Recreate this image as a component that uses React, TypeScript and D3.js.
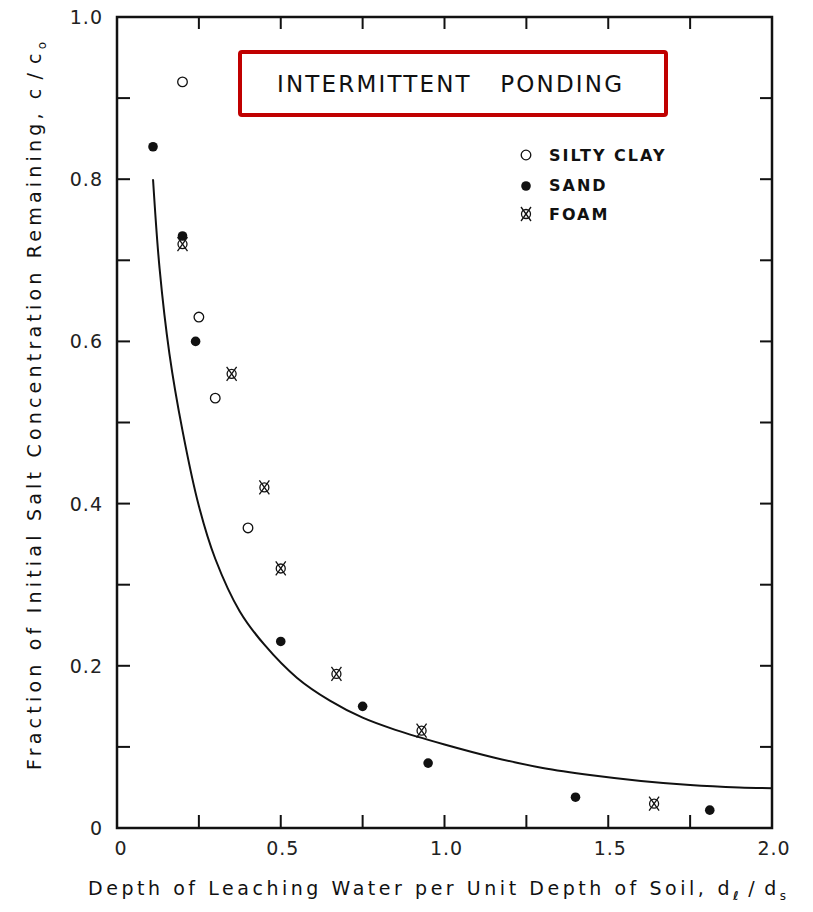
import React from 'react';
import * as d3 from 'd3';

// silty clay (open circles)
const clayX = [0.2, 0.25, 0.3, 0.4];
const clayY = [0.92, 0.63, 0.53, 0.37];

// sand (filled dots)
const sandX = [0.11, 0.2, 0.24, 0.5, 0.75, 0.95, 1.4, 1.81];
const sandY = [0.84, 0.73, 0.6, 0.23, 0.15, 0.08, 0.038, 0.022];

// foam (circle with cross)
const foamX = [0.2, 0.35, 0.45, 0.5, 0.67, 0.93, 1.64];
const foamY = [0.72, 0.56, 0.42, 0.32, 0.19, 0.12, 0.03];

// theoretical curve
const curveX = [0.11, 0.13, 0.16, 0.2, 0.25, 0.3, 0.375, 0.45, 0.55, 0.65, 0.75, 0.85, 1.0, 1.15, 1.3, 1.45, 1.6, 1.75, 1.9, 2.0];
const curveY = [0.8, 0.69, 0.585, 0.49, 0.397, 0.332, 0.267, 0.226, 0.185, 0.157, 0.136, 0.121, 0.103, 0.087, 0.074, 0.065, 0.058, 0.053, 0.05, 0.049];

const xTickLabels = [0, 0.5, 1.0, 1.5, 2.0];
const yTickLabels = [0, 0.2, 0.4, 0.6, 0.8, 1.0];
const legendItems = ['SILTY CLAY', 'SAND', 'FOAM'];

const W = 813;
const H = 912;
const left = 117, right = 772, top = 17, bottom = 828;
const font = '"DejaVu Sans", "Liberation Sans", sans-serif';

const x = d3.scaleLinear().domain([0, 2]).range([left, right]);
const y = d3.scaleLinear().domain([0, 1]).range([bottom, top]);

const Foam = ({ cx, cy }: { cx: number; cy: number }) => (
  <g transform={`translate(${cx},${cy})`} stroke="#111" strokeWidth={1.3} fill="none">
    <circle r={4.5} />
    <line x1={-5} y1={-7} x2={5} y2={7} />
    <line x1={5} y1={-7} x2={-5} y2={7} />
  </g>
);

const App = () => {
  const line = d3.line<number>()
    .x((_, i) => x(curveX[i]))
    .y(d => y(d))
    .curve(d3.curveCatmullRom.alpha(0.5));

  const quarter = d3.range(0.25, 2, 0.25);
  const tenth = d3.range(1, 10).map(i => i / 10);
  const fmt = (v: number) => (v === 0 ? '0' : d3.format('.1f')(v));

  return (
    <svg width={W} height={H} style={{ position: 'absolute', left: 0, top: 0, background: '#fff' }}
      fontFamily={font}>
      <rect width={W} height={H} fill="#fff" />

      {/* frame */}
      <rect x={left} y={top} width={right - left} height={bottom - top}
        fill="none" stroke="#111" strokeWidth={2.5} />

      {/* ticks, all pointing inward */}
      <g stroke="#111" strokeWidth={2}>
        {quarter.map(v => (
          <g key={'q' + v}>
            <line x1={x(v)} x2={x(v)} y1={bottom} y2={bottom - 13} />
            <line x1={x(v)} x2={x(v)} y1={top} y2={top + 12} />
          </g>
        ))}
        {tenth.map(v => (
          <g key={'t' + v}>
            <line x1={left} x2={left + 13} y1={y(v)} y2={y(v)} />
            <line x1={right} x2={right - 12} y1={y(v)} y2={y(v)} />
          </g>
        ))}
      </g>

      {/* tick labels */}
      <g fontSize={19} fill="#222" letterSpacing={1}>
        {xTickLabels.map(v => (
          <text key={'xl' + v} x={x(v) + (v === 0 ? 4 : 2)} y={855} textAnchor="middle">{fmt(v)}</text>
        ))}
        {yTickLabels.map(v => (
          <text key={'yl' + v} x={103} y={y(v) + 7} textAnchor="end">{fmt(v)}</text>
        ))}
      </g>

      {/* axis titles */}
      <text x={88} y={895} fontSize={19} fill="#111" textLength={698} lengthAdjust="spacing">
        Depth of Leaching Water per Unit Depth of Soil,
        <tspan dx={10}>d</tspan>
        <tspan fontSize={12} dy={5} fontWeight="bold">ℓ</tspan>
        <tspan dy={-5} dx={6}>/</tspan>
        <tspan dx={6}>d</tspan>
        <tspan fontSize={12} dy={5}>s</tspan>
      </text>
      <text transform="translate(41,770) rotate(-90)" x={0} y={0} fontSize={19} fill="#111"
        textLength={728} lengthAdjust="spacing">
        Fraction of Initial Salt Concentration Remaining,
        <tspan dx={10}>c</tspan>
        <tspan dx={5}>/</tspan>
        <tspan dx={5}>c</tspan>
        <tspan fontSize={12} dy={5}>o</tspan>
      </text>

      {/* curve */}
      <path d={line(curveY) || ''} fill="none" stroke="#111" strokeWidth={2} />

      {/* points */}
      {clayX.map((v, i) => (
        <circle key={'c' + i} cx={x(v)} cy={y(clayY[i])} r={4.8} fill="#fff" stroke="#111" strokeWidth={1.3} />
      ))}
      {sandX.map((v, i) => (
        <circle key={'s' + i} cx={x(v)} cy={y(sandY[i])} r={4.8} fill="#111" />
      ))}
      {foamX.map((v, i) => (
        <Foam key={'f' + i} cx={x(v)} cy={y(foamY[i])} />
      ))}

      {/* legend */}
      <g fontSize={16} fontWeight="bold" fill="#111" letterSpacing={2}>
        <circle cx={526} cy={155} r={4.8} fill="#fff" stroke="#111" strokeWidth={1.3} />
        <circle cx={526} cy={186} r={4.8} fill="#111" />
        <Foam cx={526} cy={214} />
        {legendItems.map((t, i) => (
          <text key={t} x={549} y={161 + i * 29.5}>{t}</text>
        ))}
      </g>

      {/* title box */}
      <rect x={240} y={52} width={426} height={63} rx={2} fill="#fff" stroke="#c00000" strokeWidth={4} />
      <text x={277} y={92} fontSize={23} fill="#111" textLength={345} lengthAdjust="spacing">
        INTERMITTENT{'\u00a0\u00a0\u00a0'}PONDING
      </text>
    </svg>
  );
};

export default App;
